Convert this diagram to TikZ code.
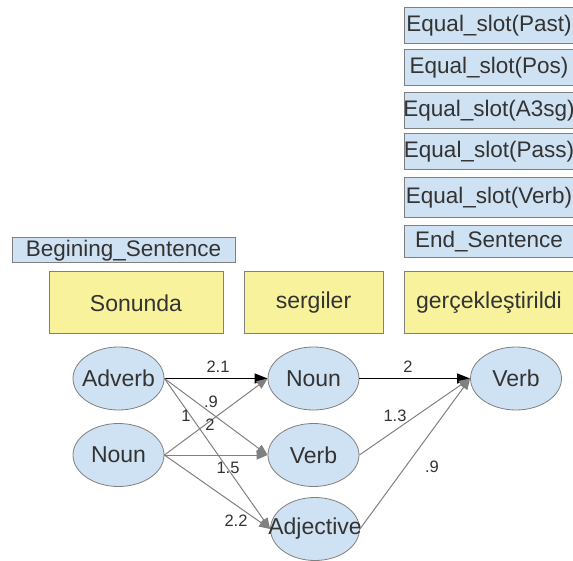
\documentclass[tikz,border=0pt]{standalone}
\usepackage{fontspec}
\setmainfont{Liberation Sans}
\usetikzlibrary{shapes.geometric, arrows.meta}
\definecolor{slotblue}{RGB}{207,226,243}
\definecolor{wordyellow}{RGB}{249,242,157}
\definecolor{framegray}{RGB}{128,128,128}
\definecolor{inkgray}{RGB}{51,51,51}

\begin{document}
\begin{tikzpicture}[
    x=1pt, y=-1pt,
    slot/.style={rectangle, draw=framegray, fill=slotblue, line width=1pt, inner sep=0pt, minimum width=170pt, minimum height=36pt, text=inkgray, font=\fontsize{22.5}{27}\selectfont,
        execute at begin node={\hbox to 0pt\bgroup\hss}, execute at end node={\hss\egroup}},
    word/.style={rectangle, draw=framegray, fill=wordyellow, line width=1pt, inner sep=0pt, minimum height=62pt, text=inkgray, font=\fontsize{23}{27}\selectfont},
    tag/.style={ellipse, draw=framegray, fill=slotblue, line width=0.8pt, inner sep=0pt, minimum width=91pt, minimum height=63pt, text=inkgray, font=\fontsize{23}{27}\selectfont,
        execute at begin node={\hbox to 0pt\bgroup\hss}, execute at end node={\hss\egroup}},
    best/.style={-{Triangle[length=13pt, width=10pt]}, black, line width=1.2pt},
    other/.style={-{Triangle[length=11pt, width=9pt]}, framegray, line width=1pt},
    weight/.style={font=\fontsize{16.5}{19}\selectfont, text=inkgray, inner sep=0pt}
]
    \useasboundingbox (0,0) rectangle (573,561);

    % Slot constraints
    \node[slot] (past) at (489,26) {Equal\_slot(Past)};
    \node[slot] (pos) at (489,68) {Equal\_slot(Pos)};
    \node[slot] (a3sg) at (489,111) {Equal\_slot(A3sg)};
    \node[slot] (pass) at (489,152) {Equal\_slot(Pass)};
    \node[slot, minimum height=40pt] (vslot) at (489,198) {Equal\_slot(Verb)};
    \node[slot, minimum height=32pt] (ends) at (489,242) {End\_Sentence};
    \node[slot, minimum width=223pt, minimum height=25pt] (begs) at (123.5,250.5) {Begining\_Sentence};

    % Words
    \node[word, minimum width=174pt] (w1) at (136,303) {Sonunda};
    \node[word, minimum width=139pt] (w2) at (313.5,303) {sergiler};
    \node[word, minimum width=170pt] (w3) at (489,303) {gerçekleştirildi};

    % Tags
    \node[tag] (adv) at (118.5,378.5) {Adverb};
    \node[tag] (noun1) at (118.5,455) {Noun};
    \node[tag] (noun2) at (313.5,378.5) {Noun};
    \node[tag] (verb2) at (313.5,455) {Verb};
    \node[tag, minimum width=89pt] (adj2) at (315,529) {Adjective};
    \node[tag] (verb3) at (516,378.5) {Verb};

    % Transitions
    \draw[best] (adv.east) -- (noun2.west);
    \draw[other] (adv.east) -- (verb2.west);
    \draw[other] (adv.east) -- (adj2.west);
    \draw[other] (noun1.east) -- (noun2.west);
    \draw[other] (noun1.east) -- (verb2.west);
    \draw[other] (noun1.east) -- (adj2.west);
    \draw[best] (noun2.east) -- (verb3.west);
    \draw[other] (verb2.east) -- (verb3.west);
    \draw[other] (adj2.east) -- (verb3.west);

    % Weights
    \node[weight] (l1) at (218,367) {2.1};
    \node[weight] (l2) at (211,402) {.9};
    \node[weight] (l3) at (186,416) {1};
    \node[weight] (l4) at (210,425) {2};
    \node[weight] (l5) at (228,468) {1.5};
    \node[weight] (l6) at (236,521) {2.2};
    \node[weight] (l7) at (408,367) {2};
    \node[weight] (l8) at (395,416) {1.3};
    \node[weight] (l9) at (432,467) {.9};
\end{tikzpicture}
\end{document}
